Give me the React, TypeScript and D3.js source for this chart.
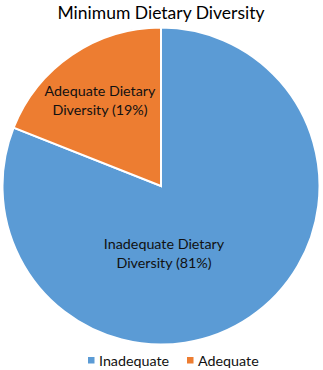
import * as d3 from 'd3';

const categories = ['Inadequate', 'Adequate'];
const values = [81, 19];
const sliceLabels = [
    ['Inadequate Dietary', 'Diversity (81%)'],
    ['Adequate Dietary', 'Diversity (19%)'],
];
const colors = ['#5B9BD5', '#ED7D31'];

const W = 323;
const H = 370;
const font = 'Lato, "Open Sans", sans-serif';

export default function App() {
    const cx = 161;
    const cy = 186;
    const r = 158.5;

    // slices go clockwise from 12 o'clock, starting with Inadequate
    const pie = d3.pie<number>().sort(null).value(d => d);
    const arcs = pie(values);
    const arc = d3.arc<d3.PieArcDatum<number>>().innerRadius(0).outerRadius(r);

    // label positions, tuned to where the reference places them
    const labelPos = [
        { x: 164, y: 249 },
        { x: 100, y: 96 },
    ];

    const legendX = [88, 187];

    return (
        <svg width={W} height={H} style={{ position: 'absolute', left: 0, top: 0, background: '#fff' }}>
            <text x={161} y={19} textAnchor="middle" fontFamily={font} fontSize={17.5} fill="#000">
                Minimum Dietary Diversity
            </text>
            <g transform={`translate(${cx},${cy})`}>
                {arcs.map((a, i) => (
                    <path key={i} d={arc(a) as string} fill={colors[i]} stroke="#fff" strokeWidth={2} />
                ))}
            </g>
            {sliceLabels.map((lines, i) => (
                <text key={i} textAnchor="middle" fontFamily={font} fontSize={14.3} fill="#111">
                    {lines.map((l, j) => (
                        <tspan key={j} x={labelPos[i].x} y={labelPos[i].y + j * 19}>{l}</tspan>
                    ))}
                </text>
            ))}
            {categories.map((c, i) => (
                <g key={c}>
                    <rect x={legendX[i]} y={357} width={6.5} height={6.5} fill={colors[i]} />
                    <text x={legendX[i] + 11} y={366} fontFamily={font} fontSize={14.3} fill="#111">{c}</text>
                </g>
            ))}
        </svg>
    );
}
